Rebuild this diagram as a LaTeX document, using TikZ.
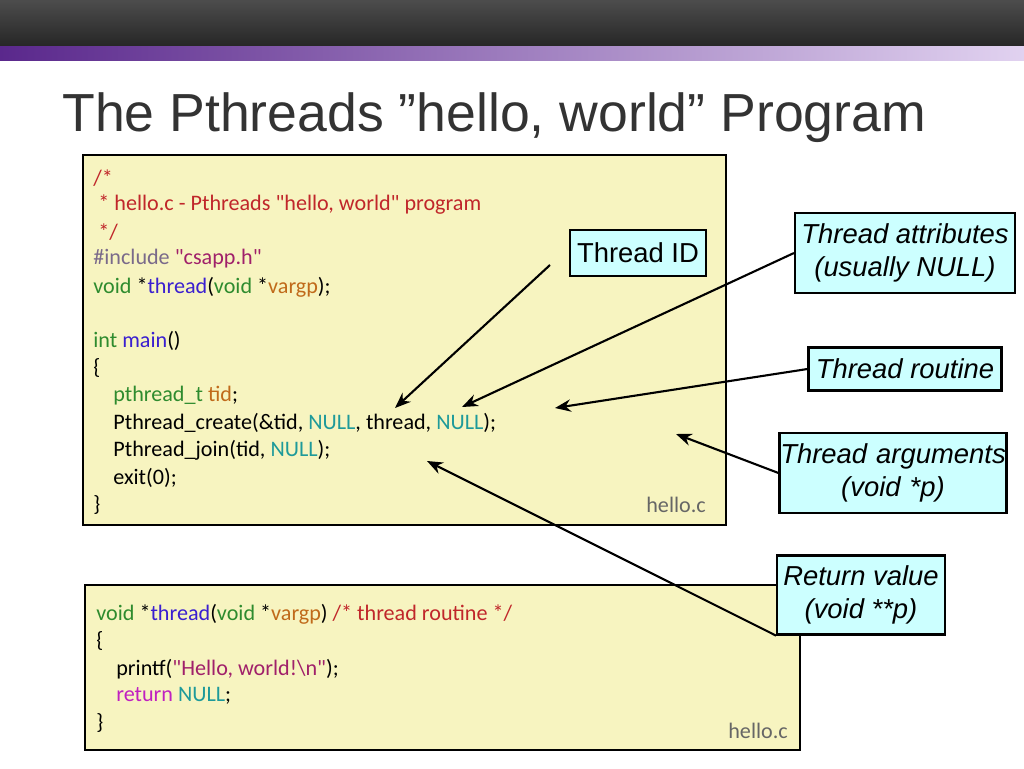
\documentclass[tikz,border=0pt]{standalone}
\usepackage{fontspec}
\setmainfont{Liberation Sans}
\newfontfamily\codefont{Carlito}
\usetikzlibrary{positioning,arrows.meta}
\definecolor{codebg}{HTML}{F7F4C0}
\definecolor{notebg}{HTML}{CCFFFF}
\definecolor{cmt}{HTML}{C0262A}
\definecolor{kw}{HTML}{2E8B2E}
\definecolor{fn}{HTML}{3A1FD0}
\definecolor{arg}{HTML}{C06A1A}
\definecolor{pre}{HTML}{7A6A8A}
\definecolor{str}{HTML}{A0206A}
\definecolor{cst}{HTML}{1E9A9A}
\definecolor{ret}{HTML}{C020C0}
\newcommand{\cm}[1]{\textcolor{cmt}{#1}}
\newcommand{\kw}[1]{\textcolor{kw}{#1}}
\newcommand{\fn}[1]{\textcolor{fn}{#1}}
\newcommand{\ar}[1]{\textcolor{arg}{#1}}
\newcommand{\cs}[1]{\textcolor{cst}{#1}}
\newcommand{\st}[1]{\textcolor{str}{#1}}
\newcommand{\dq}{\symbol{34}}
\begin{document}
\begin{tikzpicture}[x=0.02cm,y=-0.02cm,
    codeline/.style={anchor=west,inner sep=0pt,font=\codefont\fontsize{12.6}{14}\selectfont},
    note/.style={draw,line width=1.2pt,fill=notebg,align=center,inner sep=0pt,font=\fontsize{15.6}{19}\selectfont\itshape},
    pointer/.style={-{Stealth[length=9pt,width=7pt]},line width=1.2pt}]
    \useasboundingbox (0,0) rectangle (1024,768);
    % header bars
    \shade[top color=black!70,bottom color=black!85] (0,0) rectangle (1024,46);
    \shade[left color={rgb,255:red,90;green,40;blue,140},right color={rgb,255:red,225;green,210;blue,240}] (0,46) rectangle (1024,60);
    \node[anchor=west,inner sep=0pt,text=black!80,font=\fontsize{30.5}{36}\selectfont] (title) at (62,118) {The Pthreads \dq hello, world\dq{} Program};

    % main code box
    \draw[line width=1.5pt,fill=codebg] (83,155) rectangle (726,525);
    \node[codeline] (l1) at (93,178) {\cm{/*}};
    \node[codeline] (l2) at (93,205) {\cm{~* hello.c - Pthreads \dq hello, world\dq{} program}};
    \node[codeline] (l3) at (93,232) {\cm{~*/}};
    \node[codeline] (l4) at (93,259) {\textcolor{pre}{\#include} \st{\dq csapp.h\dq}};
    \node[codeline] (l5) at (93,287) {\kw{void} *\fn{thread}(\kw{void} *\ar{vargp});};
    \node[codeline] (l6) at (93,341) {\kw{int} \fn{main}()};
    \node[codeline] (l7) at (93,368) {\{};
    \node[codeline] (l8) at (113,396) {\kw{pthread\_t} \ar{tid};};
    \node[codeline] (l9) at (113,423) {Pthread\_create(\&tid, \cs{NULL}, thread, \cs{NULL});};
    \node[codeline] (l10) at (113,450) {Pthread\_join(tid, \cs{NULL});};
    \node[codeline] (l11) at (113,478) {exit(0);};
    \node[codeline] (l12) at (93,505) {\}};
    \node[codeline,text=black!60] (file1) at (646,505) {hello.c};

    % thread routine box
    \draw[line width=1.5pt,fill=codebg] (85,585) rectangle (800,750);
    \node[codeline] (m1) at (96,614) {\kw{void} *\fn{thread}(\kw{void} *\ar{vargp}) \cm{/* thread routine */}};
    \node[codeline] (m2) at (96,641) {\{};
    \node[codeline] (m3) at (116,669) {printf(\st{\dq Hello, world!\textbackslash n\dq});};
    \node[codeline] (m4) at (116,696) {\textcolor{ret}{return} \cs{NULL};};
    \node[codeline] (m5) at (96,723) {\}};
    \node[codeline,text=black!60] (file2) at (728,731) {hello.c};

    % callouts
    \node[note,font=\fontsize{15.6}{19}\selectfont,minimum width=2.72cm,minimum height=0.92cm] (tid) at (638,253) {Thread ID};
    \node[note,minimum width=4.4cm,minimum height=1.6cm] (attr) at (905,253) {Thread attributes\\(usually NULL)};
    \node[note,minimum width=3.86cm,minimum height=0.86cm] (rout) at (905,369) {Thread routine};
    \node[note,text width=4.54cm,minimum height=1.6cm] (args) at (893,473) {Thread arguments\\(void *p)};
    \node[note,minimum width=3.36cm,minimum height=1.58cm] (retv) at (861,595) {Return value\\(void **p)};

    \coordinate (tidfoot) at (550,265);
    \coordinate (tidtip) at (395,408);
    \coordinate (attrtip) at (462,407);
    \coordinate (routtip) at (555,408);
    \coordinate (argstip) at (676,434);
    \coordinate (retvtip) at (427,461);
    \draw[pointer] (tidfoot) -- (tidtip);
    \draw[pointer] (attr.west) -- (attrtip);
    \draw[pointer] (rout.west) -- (routtip);
    \draw[pointer] (args.west) -- (argstip);
    \draw[pointer] (retv.south west) -- (retvtip);
\end{tikzpicture}
\end{document}
